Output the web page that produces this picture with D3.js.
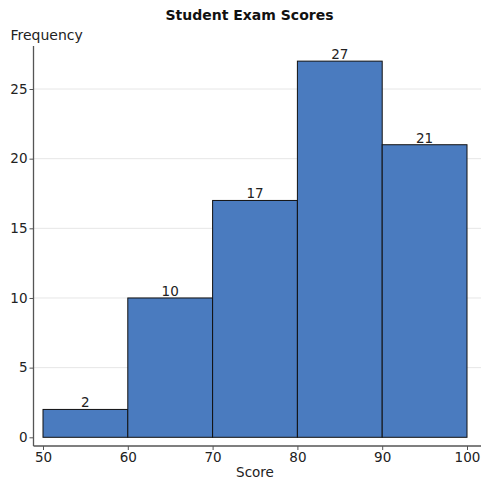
<!DOCTYPE html>
<html>
<head>
<meta charset="utf-8">
<script src="https://cdn.jsdelivr.net/npm/d3@7"></script>
<style>
  body { margin: 0; background: white; }
  svg { display: block; font-family: "DejaVu Sans", Verdana, sans-serif; }
</style>
</head>
<body>
<div id="chart"></div>
<script>
// ---------- data ----------
const binEdges = [50, 60, 70, 80, 90, 100];
const counts = [2, 10, 17, 27, 21];
const yTicks = [0, 5, 10, 15, 20, 25];
const xTicks = [50, 60, 70, 80, 90, 100];

const bins = counts.map((c, i) => ({ x0: binEdges[i], x1: binEdges[i + 1], count: c }));

// ---------- svg ----------
const width = 481, height = 483;
const svg = d3.select("#chart").append("svg")
    .attr("width", width)
    .attr("height", height);

const x = d3.scaleLinear().domain([50, 100]).range([43, 467]);
const y = d3.scaleLinear().domain([0, 25]).range([437.3, 89]);

const axisX = 33.5;   // y axis line position
const axisY = 446;    // x axis line position

// gridlines
svg.append("g")
  .selectAll("line")
  .data(yTicks.filter(d => d > 0))
  .join("line")
    .attr("x1", axisX)
    .attr("x2", width)
    .attr("y1", d => y(d))
    .attr("y2", d => y(d))
    .attr("stroke", "#e6e6e6")
    .attr("stroke-width", 1);

// bars
svg.append("g")
  .selectAll("rect")
  .data(bins)
  .join("rect")
    .attr("x", d => x(d.x0))
    .attr("y", d => y(d.count))
    .attr("width", d => x(d.x1) - x(d.x0))
    .attr("height", d => y(0) - y(d.count))
    .attr("fill", "#4a7bbf")
    .attr("stroke", "#111")
    .attr("stroke-width", 1);

// bar labels
svg.append("g")
  .selectAll("text")
  .data(bins)
  .join("text")
    .attr("x", d => (x(d.x0) + x(d.x1)) / 2)
    .attr("y", d => y(d.count) - 2)
    .attr("text-anchor", "middle")
    .attr("font-size", 13.5)
    .attr("fill", "#222")
    .text(d => d.count);

// y axis
const yAxis = d3.axisLeft(y).tickValues(yTicks).tickSize(4).tickPadding(2);
const gy = svg.append("g")
    .attr("transform", `translate(${axisX},0)`)
    .call(yAxis);
gy.select(".domain").remove();
gy.append("line")
    .attr("x1", 0).attr("x2", 0)
    .attr("y1", 46).attr("y2", axisY)
    .attr("stroke", "#555").attr("stroke-width", 1.3);
gy.selectAll(".tick line").attr("stroke", "#555");
gy.selectAll(".tick text")
    .attr("font-size", 13.5)
    .attr("font-family", "DejaVu Sans, Verdana, sans-serif")
    .attr("fill", "#222");

// x axis
const xAxis = d3.axisBottom(x).tickValues(xTicks).tickSize(4).tickPadding(2);
const gx = svg.append("g")
    .attr("transform", `translate(0,${axisY})`)
    .call(xAxis);
gx.select(".domain").remove();
gx.append("line")
    .attr("x1", axisX).attr("x2", width)
    .attr("y1", 0).attr("y2", 0)
    .attr("stroke", "#555").attr("stroke-width", 1.3);
gx.selectAll(".tick line").attr("stroke", "#555");
gx.selectAll(".tick text")
    .attr("font-size", 13.5)
    .attr("font-family", "DejaVu Sans, Verdana, sans-serif")
    .attr("fill", "#222");

// titles
svg.append("text")
    .attr("x", 249.5)
    .attr("y", 19.5)
    .attr("text-anchor", "middle")
    .attr("font-size", 14)
    .attr("font-weight", "bold")
    .attr("fill", "#111")
    .text("Student Exam Scores");

svg.append("text")
    .attr("x", 10.5)
    .attr("y", 40)
    .attr("font-size", 14)
    .attr("fill", "#222")
    .text("Frequency");

svg.append("text")
    .attr("x", 255)
    .attr("y", 477)
    .attr("text-anchor", "middle")
    .attr("font-size", 13.5)
    .attr("fill", "#222")
    .text("Score");
</script>
</body>
</html>
